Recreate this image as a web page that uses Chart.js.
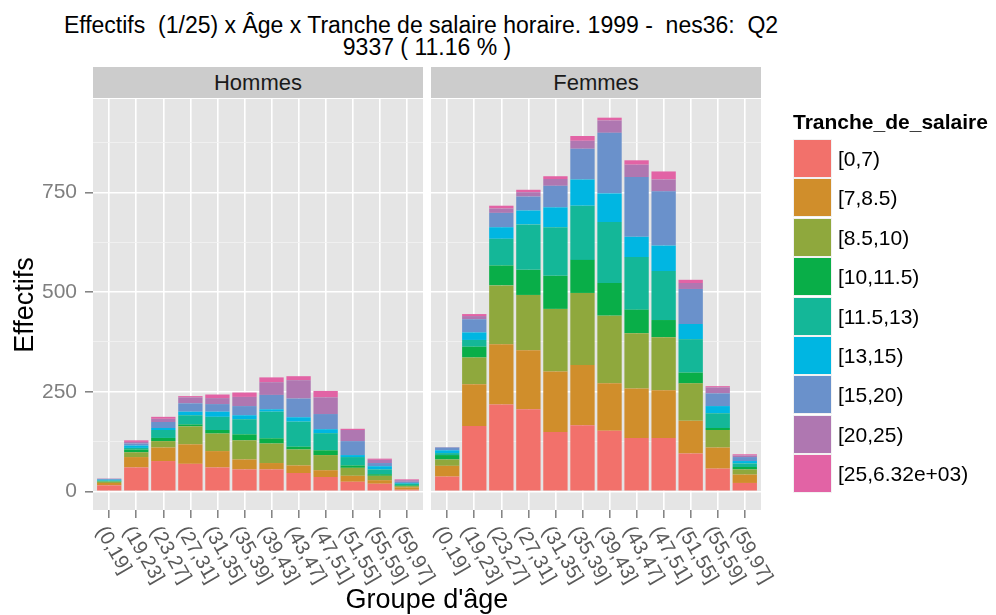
<!DOCTYPE html>
<html>
<head>
<meta charset="utf-8">
<script src="https://cdn.jsdelivr.net/npm/chart.js@4.4.0/dist/chart.umd.min.js"></script>
<style>
  body { margin: 0; background: #fff; font-family: "Liberation Sans", Arial, sans-serif; }
  #wrap { position: relative; width: 996px; height: 615px; overflow: hidden; }
  .abs { position: absolute; }
  .title { left: 60px; width: 734px; text-align: center; font-size: 23px; line-height: 22px; white-space: pre; color: #000; }
  .strip { top: 67px; height: 31px; background: #CCCCCC; text-align: center; font-size: 22px; line-height: 31px; color: #1a1a1a; }
  .key { position: absolute; left: 793px; width: 39px; height: 39px; box-sizing: border-box; border: 1px solid #F2F2F2; }
  .keylab { position: absolute; left: 838px; height: 39px; line-height: 39px; font-size: 21px; white-space: pre; }
</style>
</head>
<body>
<div id="wrap">
  <div class="abs title" style="top:14px;left:54px">Effectifs  (1/25) x Âge x Tranche de salaire horaire. 1999 -  nes36:  Q2</div>
  <div class="abs title" style="top:36px">9337 ( 11.16 % )</div>
  <div class="abs strip" style="left:93px;width:330px">Hommes</div>
  <div class="abs strip" style="left:431px;width:330px">Femmes</div>
  <canvas id="hommes-chart" class="abs" style="left:0;top:99px" width="463" height="516"></canvas>
  <canvas id="femmes-chart" class="abs" style="left:431px;top:99px" width="370" height="516"></canvas>
  <div class="abs" style="left:-56px;top:290px;width:160px;text-align:center;font-size:27px;line-height:30px;transform:rotate(-90deg)">Effectifs</div>
  <div class="abs" style="left:93px;top:584px;width:668px;text-align:center;font-size:27px;line-height:30px">Groupe d'âge</div>
  <div class="abs" style="left:793px;top:111px;font-size:21px;line-height:21px;font-weight:bold">Tranche_de_salaire</div>
  <div id="legend"></div>
</div>
<script>
const ageGroups = ["(0,19]", "(19,23]", "(23,27]", "(27,31]", "(31,35]", "(35,39]",
  "(39,43]", "(43,47]", "(47,51]", "(51,55]", "(55,59]", "(59,97]"];
const salaryBands = ["[0,7)", "[7,8.5)", "[8.5,10)", "[10,11.5)", "[11.5,13)",
  "[13,15)", "[15,20)", "[20,25)", "[25,6.32e+03)"];
const bandColors = ["#F2716B", "#D08E2B", "#8FA83D", "#09AE48", "#14B798",
  "#00B6E2", "#6A91CB", "#AF77B1", "#E263A5"];
const yLabels = [0, 250, 500, 750];

// Hommes, one row per salary band (bottom to top)
const hommes = [
  [15, 60, 76, 69, 60, 55, 55, 46, 36, 24, 19, 4],
  [6, 26, 34, 49, 41, 25, 16, 19, 17, 15, 9, 6],
  [3, 12, 16, 45, 44, 48, 49, 40, 38, 20, 11, 3],
  [1, 7, 8, 5, 9, 15, 13, 7, 12, 6, 4, 2],
  [2, 4, 20, 23, 33, 38, 67, 63, 43, 21, 12, 4],
  [2, 6, 5, 9, 13, 10, 6, 11, 10, 5, 8, 2],
  [2, 5, 15, 21, 19, 23, 36, 47, 38, 35, 8, 3],
  [1, 4, 8, 15, 15, 23, 32, 46, 42, 28, 8, 4],
  [0, 4, 5, 3, 9, 11, 12, 10, 16, 3, 3, 2],
];

// Femmes
const femmes = [
  [37, 164, 218, 206, 149, 166, 152, 134, 134, 95, 57, 21],
  [27, 105, 151, 148, 152, 151, 119, 124, 120, 82, 53, 21],
  [16, 67, 148, 139, 157, 181, 170, 139, 133, 94, 44, 13],
  [11, 27, 50, 63, 83, 83, 82, 59, 43, 27, 5, 6],
  [5, 17, 67, 114, 122, 136, 153, 132, 123, 84, 37, 9],
  [7, 19, 29, 35, 50, 66, 72, 51, 64, 38, 18, 6],
  [7, 33, 36, 35, 54, 77, 152, 150, 136, 88, 32, 10],
  [1, 8, 11, 11, 17, 20, 31, 31, 30, 15, 15, 4],
  [0, 5, 7, 6, 7, 12, 7, 11, 20, 8, 3, 3],
];

// ggplot-like 5% expansion of the y range
const totals = [hommes, femmes].flatMap(rows => ageGroups.map((_, i) => rows.reduce((s, r) => s + r[i], 0)));
const yTop = Math.max(...totals);
const yPad = yTop * 0.05;
const yGrid = [];
yLabels.forEach(v => { yGrid.push(v); yGrid.push(v + 125); });

const legend = document.getElementById("legend");
salaryBands.forEach((b, k) => {
  const top = 139 + k * 39.4;
  legend.insertAdjacentHTML("beforeend",
    `<div class="key" style="top:${top}px;background:${bandColors[k]}"></div>` +
    `<div class="keylab" style="top:${top}px">${b}</div>`);
});

const panelBg = {
  id: "panelBg",
  beforeDraw(chart) {
    const { ctx, chartArea: a } = chart;
    ctx.save();
    ctx.fillStyle = "#E5E5E5";
    ctx.fillRect(a.left, a.top, a.right - a.left, a.bottom - a.top);
    ctx.restore();
  },
};

const slantedLabels = {
  id: "slantedLabels",
  afterDraw(chart) {
    const { ctx, chartArea: a } = chart;
    const xs = chart.scales.x;
    ctx.save();
    ctx.font = '20px "Liberation Sans"';
    ctx.fillStyle = "#595959";
    ctx.textAlign = "left";
    ctx.textBaseline = "top";
    ageGroups.forEach((lab, i) => {
      ctx.save();
      ctx.translate(xs.getPixelForValue(i + 1), a.bottom + 13);
      ctx.rotate(Math.PI / 3);
      ctx.fillText(lab, 0, 0);
      ctx.restore();
    });
    ctx.restore();
  },
};

function makeDatasets(rows) {
  return salaryBands.map((b, k) => ({
    label: b,
    data: rows[k].map((v, i) => ({ x: i + 1, y: v })),
    backgroundColor: bandColors[k],
    borderWidth: 0,
    categoryPercentage: 1,
    barPercentage: 0.9,
  }));
}

function makeChart(canvas, rows, showY) {
  return new Chart(canvas, {
    type: "bar",
    data: { datasets: makeDatasets(rows) },
    options: {
      responsive: false,
      animation: false,
      layout: { padding: { left: 0, top: 0, bottom: 0, right: 40 } },
      plugins: { legend: { display: false }, tooltip: { enabled: false } },
      scales: {
        x: {
          type: "linear",
          stacked: true,
          offset: false,
          min: 0.4,
          max: ageGroups.length + 0.6,
          afterBuildTicks: s => { s.ticks = ageGroups.map((_, i) => ({ value: i + 1 })); },
          grid: { offset: false, color: "#FFFFFF", lineWidth: 1.6, tickLength: 8, tickColor: "#7F7F7F", tickWidth: 1.5 },
          border: { display: false },
          ticks: { display: false },
          afterFit: s => { s.height = 105; s.paddingLeft = 0; s.paddingRight = 0; },
        },
        y: {
          stacked: true,
          min: -yPad,
          max: yTop + yPad,
          afterBuildTicks: s => { s.ticks = yGrid.map(v => ({ value: v })); },
          grid: {
            color: c => (c.tick && c.tick.value % 250 === 0 ? "#FFFFFF" : "#F2F2F2"),
            lineWidth: c => (c.tick && c.tick.value % 250 === 0 ? 1.6 : 0.8),
            drawTicks: showY,
            tickLength: 8,
            tickWidth: 1.5,
            tickColor: c => (c.tick && c.tick.value % 250 === 0 ? "#7F7F7F" : "rgba(0,0,0,0)"),
          },
          border: { display: false },
          ticks: {
            display: showY,
            autoSkip: false,
            padding: 8,
            color: "#7F7F7F",
            font: { family: "Liberation Sans", size: 21 },
            callback: v => (yLabels.includes(v) ? v : ""),
          },
          afterFit: s => { s.width = showY ? 93 : 0; s.paddingTop = 0; s.paddingBottom = 0; },
        },
      },
    },
    plugins: [panelBg, slantedLabels],
  });
}

makeChart(document.getElementById("hommes-chart"), hommes, true);
makeChart(document.getElementById("femmes-chart"), femmes, false);
</script>
</body>
</html>
